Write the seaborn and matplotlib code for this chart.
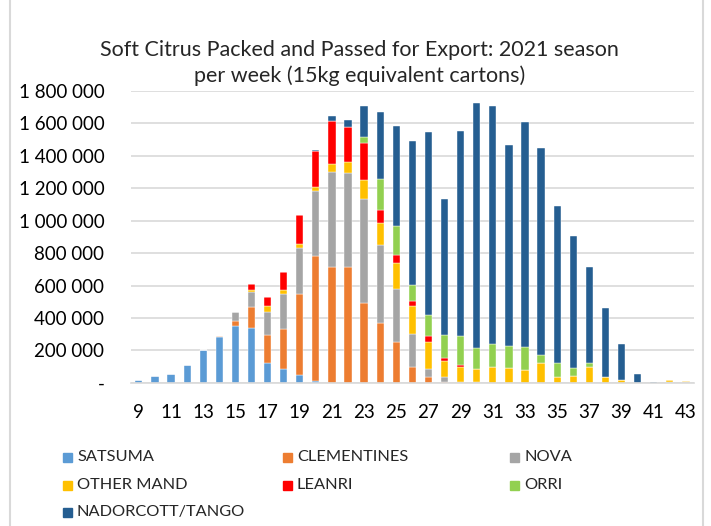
import numpy as np
import pandas as pd
import matplotlib
matplotlib.use('Agg')
import matplotlib.pyplot as plt
from matplotlib.patches import Rectangle
from matplotlib.lines import Line2D
from matplotlib.ticker import FuncFormatter
import seaborn as sns

weeks = list(range(9, 44))

satsuma = [15000, 42000, 52000, 108000, 203000, 285000, 349000, 339000, 123000, 86000,
           51000, 12000, 0, 0, 0, 0, 0, 0, 0, 0, 0, 0, 0, 0, 0, 0, 0, 0, 0, 0, 0, 0, 0, 5000, 0]
clementines = [0, 0, 0, 0, 0, 3000, 33000, 127000, 171000, 247000, 495000, 773000, 713000, 717000,
               493000, 372000, 251000, 97000, 37000, 6000, 0, 0, 0, 0, 0, 0, 0, 0, 0, 0, 0, 0, 0, 0, 0]
nova = [0, 0, 0, 0, 0, 0, 53000, 97000, 146000, 216000, 284000, 401000, 586000, 575000,
        639000, 479000, 329000, 206000, 51000, 29000, 8000, 8000, 0, 0, 0, 0, 0, 0, 0, 0, 0, 0, 0, 0, 4000]
other_mand = [3000, 3000, 3000, 3000, 2000, 4000, 5000, 8000, 37000, 23000, 25000, 25000, 51000, 70000,
              121000, 136000, 158000, 169000, 162000, 103000, 88000, 78000, 97000, 90000, 80000, 125000,
              37000, 45000, 99000, 39000, 21000, 0, 0, 12000, 9000]
leanri = [0, 0, 0, 0, 0, 0, 0, 40000, 53000, 113000, 179000, 218000, 263000, 214000,
          224000, 82000, 49000, 35000, 37000, 18000, 14000, 0, 0, 0, 0, 0, 0, 0, 0, 0, 0, 0, 0, 0, 0]
orri = [0, 0, 0, 0, 0, 0, 0, 0, 0, 0, 0, 0, 0, 0,
        41000, 191000, 179000, 95000, 134000, 138000, 181000, 132000, 142000, 138000, 140000, 49000,
        88000, 49000, 21000, 0, 0, 0, 0, 0, 0]
nadorcott = [0, 0, 0, 0, 0, 0, 0, 0, 0, 0, 0, 10000, 35000, 47000,
             187000, 411000, 621000, 890000, 1126000, 840000, 1262000, 1508000, 1471000, 1237000,
             1389000, 1276000, 964000, 810000, 592000, 423000, 216000, 53000, 8000, 0, 0]

varieties = ['SATSUMA', 'CLEMENTINES', 'NOVA', 'OTHER MAND', 'LEANRI', 'ORRI', 'NADORCOTT/TANGO']
colors = ['#5B9BD5', '#ED7D31', '#A5A5A5', '#FFC000', '#FF0000', '#92D050', '#255E91']
series = [satsuma, clementines, nova, other_mand, leanri, orri, nadorcott]

rows = []
for name, vals in zip(varieties, series):
    for w, v in zip(weeks, vals):
        rows.append({'week': w, 'variety': name, 'cartons': v})
df = pd.DataFrame(rows)

sns.set_style('white')
plt.rcParams['font.family'] = ['Lato', 'DejaVu Sans']

fig = plt.figure(figsize=(7.11, 5.26), dpi=100)
ax = fig.add_axes([0.184, 0.272, 0.792, 0.555])

# seaborn stacks the first hue level on top, so feed the order reversed
sns.histplot(data=df, x='week', weights='cartons', hue='variety',
             hue_order=varieties[::-1], palette=dict(zip(varieties, colors)),
             multiple='stack', discrete=True, shrink=0.45, alpha=1,
             edgecolor='white', linewidth=0.3, legend=False, ax=ax)

ax.set_xlim(8.5, 43.5)
ax.set_ylim(0, 1800000)
ax.set_yticks(np.arange(0, 1800001, 200000))
ax.set_xticks(weeks[::2])
ax.yaxis.set_major_formatter(FuncFormatter(lambda v, p: '-' if v == 0 else f'{int(v):,}'.replace(',', ' ')))
ax.grid(axis='y', color='#d9d9d9', linewidth=1.2)
ax.set_axisbelow(True)
for s in ['top', 'right', 'left']:
    ax.spines[s].set_visible(False)
ax.spines['bottom'].set_color('#d9d9d9')
ax.spines['bottom'].set_linewidth(1.2)
ax.tick_params(axis='both', length=0, labelsize=13.5, colors='black')
ax.tick_params(axis='x', pad=15)
ax.tick_params(axis='y', pad=19)
ax.set_xlabel('')
ax.set_ylabel('')

fig.text(0.506, 0.88, 'Soft Citrus Packed and Passed for Export: 2021 season\nper week (15kg equivalent cartons)',
         ha='center', va='center', fontsize=15.5, linespacing=1.35)

# legend laid out row by row like the original
col_x = [63, 283, 510]
row_y = [457, 485, 512]
for i, (name, c) in enumerate(zip(varieties, colors)):
    x = col_x[i % 3]
    y = row_y[i // 3]
    fig.add_artist(Rectangle((x / 711, 1 - (y + 4.5) / 526), 9 / 711, 9 / 526,
                             transform=fig.transFigure, color=c))
    fig.text((x + 14) / 711, 1 - y / 526, name, ha='left', va='center', fontsize=11.8)

for xp in [10, 703]:
    fig.add_artist(Line2D([xp / 711, xp / 711], [0, 1], transform=fig.transFigure,
                          color='#d9d9d9', linewidth=1.5))

fig.savefig('out.png', dpi=100)
